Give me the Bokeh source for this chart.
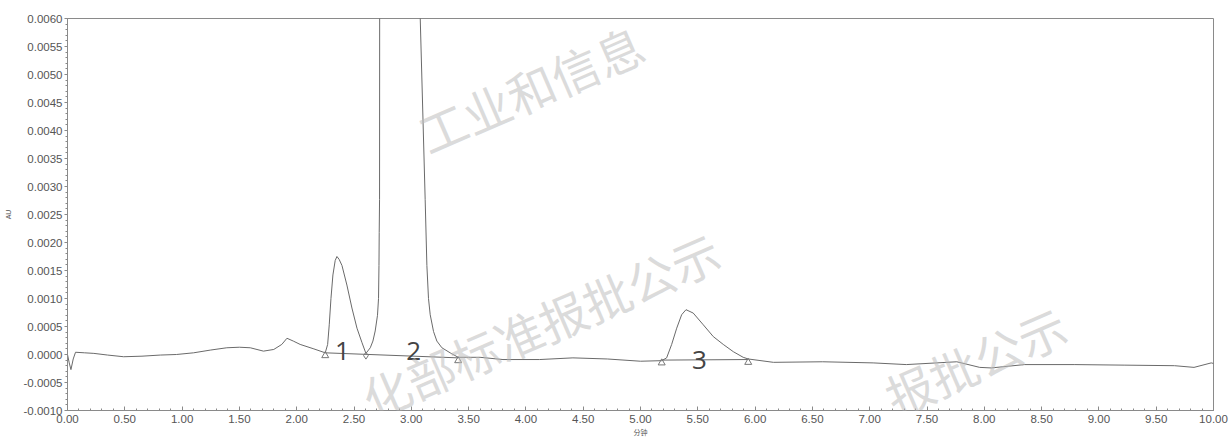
from bokeh.plotting import figure
from bokeh.models import Range1d, FixedTicker, Label, NumeralTickFormatter
from bokeh.embed import file_html
from bokeh.resources import INLINE
from bokeh.core.properties import value

# ---- data ----
time_min = [0.00, 0.015, 0.03, 0.05, 0.07, 0.15, 0.23, 0.35, 0.49, 0.65, 0.81, 0.95,
            1.10, 1.25, 1.39, 1.50, 1.595, 1.71, 1.80, 1.87, 1.915, 1.97, 2.03, 2.15,
            2.249, 2.27, 2.284, 2.299, 2.316, 2.336, 2.351, 2.37, 2.395, 2.438, 2.482,
            2.526, 2.57, 2.604, 2.642, 2.665, 2.685, 2.705, 2.714, 2.718, 2.72, 2.723,
            2.724, 2.73, 2.80, 2.90, 3.00, 3.05, 3.078, 3.121, 3.136, 3.150, 3.165,
            3.194, 3.223, 3.267, 3.339, 3.409, 3.50, 3.60, 3.80, 4.12, 4.41, 4.71,
            5.00, 5.185, 5.228, 5.272, 5.316, 5.359, 5.397, 5.46, 5.548, 5.635, 5.722,
            5.81, 5.896, 5.94, 6.16, 6.59, 7.03, 7.32, 7.76, 7.96, 8.06, 8.35, 8.79,
            9.22, 9.66, 9.83, 9.98, 10.00]
absorbance_au = [0.00000, -0.00015, -0.00027, -0.00008, 0.00004, 0.00003, 0.00002, -0.00001,
                 -0.00004, -0.00003, -0.00001, 0.00000, 0.00003, 0.00008, 0.00012, 0.00013,
                 0.00012, 0.00006, 0.00009, 0.00018, 0.00029, 0.00024, 0.00018, 0.00010,
                 0.00003, 0.00018, 0.00053, 0.00100, 0.00142, 0.00168, 0.00175, 0.00170,
                 0.00159, 0.00124, 0.00083, 0.00047, 0.00021, 0.00002, 0.00012, 0.00024,
                 0.00042, 0.00070, 0.00100, 0.00159, 0.00218, 0.00277, 0.00620, 0.00850,
                 0.02000, 0.02400, 0.01800, 0.00950, 0.00600, 0.00277, 0.00159, 0.00100,
                 0.00071, 0.00041, 0.00024, 0.00012, 0.00003, -0.00005, -0.00005, -0.00005,
                 -0.00009, -0.00009, -0.00006, -0.00008, -0.00012, -0.00011, -0.00006,
                 0.00018, 0.00047, 0.00071, 0.00080, 0.00074, 0.00053, 0.00032, 0.00018,
                 0.00005, -0.00005, -0.00008, -0.00014, -0.00013, -0.00015, -0.00018,
                 -0.00013, -0.00023, -0.00024, -0.00018, -0.00018, -0.00019, -0.00020,
                 -0.00023, -0.00015, -0.00016]

# integration baselines (start, end) per peak group
baseline_t0 = [2.249, 5.185]
baseline_a0 = [0.00003, -0.00010]
baseline_t1 = [3.409, 5.94]
baseline_a1 = [-0.00006, -0.00009]

# peak start/end marks (triangles) and valley drop (diamond)
mark_t = [2.249, 3.409, 5.185, 5.94]
mark_a = [0.00003, -0.00006, -0.00010, -0.00009]
valley_t = [2.604]
valley_a = [0.00001]

# peak numbers
peak_labels = ["1", "2", "3"]
peak_label_t = [2.40, 3.02, 5.515]
peak_label_a = [0.00007, 0.00007, -0.00010]

x_ticks = [round(0.5 * i, 2) for i in range(21)]
x_minor = [round(0.1 * i, 2) for i in range(101)]
y_ticks = [round(-0.001 + 0.0005 * i, 5) for i in range(15)]
y_minor = [round(-0.001 + 0.0001 * i, 5) for i in range(71)]

# watermark fragments visible in the picture (text, centre time, centre AU)
wm_texts = ["工业和信息", "化部标准报批公示", "报批公示"]
wm_t = [4.04, 4.127, 7.923]
wm_a = [0.00476, 0.00054, -0.00010]

AXIS = "#8a8a8a"
TXT = "#555555"
TRACE = "#6a6a6a"

p = figure(width=1232, height=439, x_range=Range1d(0, 10), y_range=Range1d(-0.001, 0.006),
           output_backend="svg", toolbar_location=None,
           min_border_left=67, min_border_right=19, min_border_top=18, min_border_bottom=26)
p.xgrid.visible = False
p.ygrid.visible = False
p.outline_line_color = AXIS
p.outline_line_width = 1
p.background_fill_color = "white"
p.border_fill_color = "white"

p.line(time_min, absorbance_au, line_color=TRACE, line_width=1)
p.segment(x0=baseline_t0, y0=baseline_a0, x1=baseline_t1, y1=baseline_a1,
          line_color=TRACE, line_width=1)

drop = 0.00005
p.scatter(mark_t, [a - drop for a in mark_a], marker="triangle", size=7,
          fill_color=None, line_color="#777777", line_width=1)
p.scatter(valley_t, [a - drop * 0.6 for a in valley_a], marker="diamond", size=7,
          fill_color=None, line_color="#777777", line_width=1)

p.text(x=peak_label_t, y=peak_label_a, text=peak_labels, text_font=value("Open Sans"),
       text_font_size="26px", text_color="#444444", text_align="center",
       text_baseline="alphabetic")

# watermarks (drawn over everything, semi-transparent, not clipped)
for s, cx, cy in zip(wm_texts, wm_t, wm_a):
    p.add_layout(Label(x=cx, y=cy, text=s, angle=23.5, angle_units="deg",
                       text_font="Noto Sans CJK SC", text_font_size="48px",
                       text_color="#bdbdbd", text_alpha=0.55,
                       text_align="center", text_baseline="middle",
                       level="overlay"))

# axes
xa = p.xaxis[0]
xa.ticker = FixedTicker(ticks=x_ticks, minor_ticks=x_minor)
xa.formatter = NumeralTickFormatter(format="0.00")
xa.axis_line_color = AXIS
xa.major_tick_line_color = AXIS
xa.minor_tick_line_color = AXIS
xa.major_tick_in = 4
xa.major_tick_out = 0
xa.minor_tick_in = 2
xa.minor_tick_out = 0
xa.major_label_standoff = 4
xa.major_label_text_font = "Liberation Sans"
xa.major_label_text_font_size = "11.5px"
xa.major_label_text_color = TXT
xa.axis_label = "分钟"
xa.axis_label_text_font = "Noto Sans CJK SC"
xa.axis_label_text_font_size = "7px"
xa.axis_label_text_font_style = "normal"
xa.axis_label_text_color = TXT
xa.axis_label_standoff = 1

ya = p.yaxis[0]
ya.ticker = FixedTicker(ticks=y_ticks, minor_ticks=y_minor)
ya.formatter = NumeralTickFormatter(format="0.0000")
ya.axis_line_color = AXIS
ya.major_tick_line_color = AXIS
ya.minor_tick_line_color = AXIS
ya.major_tick_in = 0
ya.major_tick_out = 3
ya.minor_tick_in = 0
ya.minor_tick_out = 2
ya.major_label_standoff = 2
ya.major_label_text_font = "Liberation Sans"
ya.major_label_text_font_size = "11.5px"
ya.major_label_text_color = TXT
ya.axis_label = "AU"
ya.axis_label_text_font = "Liberation Sans"
ya.axis_label_text_font_size = "7px"
ya.axis_label_text_font_style = "normal"
ya.axis_label_text_color = TXT
ya.axis_label_standoff = 8

open("out.html", "w").write(file_html(p, INLINE))
